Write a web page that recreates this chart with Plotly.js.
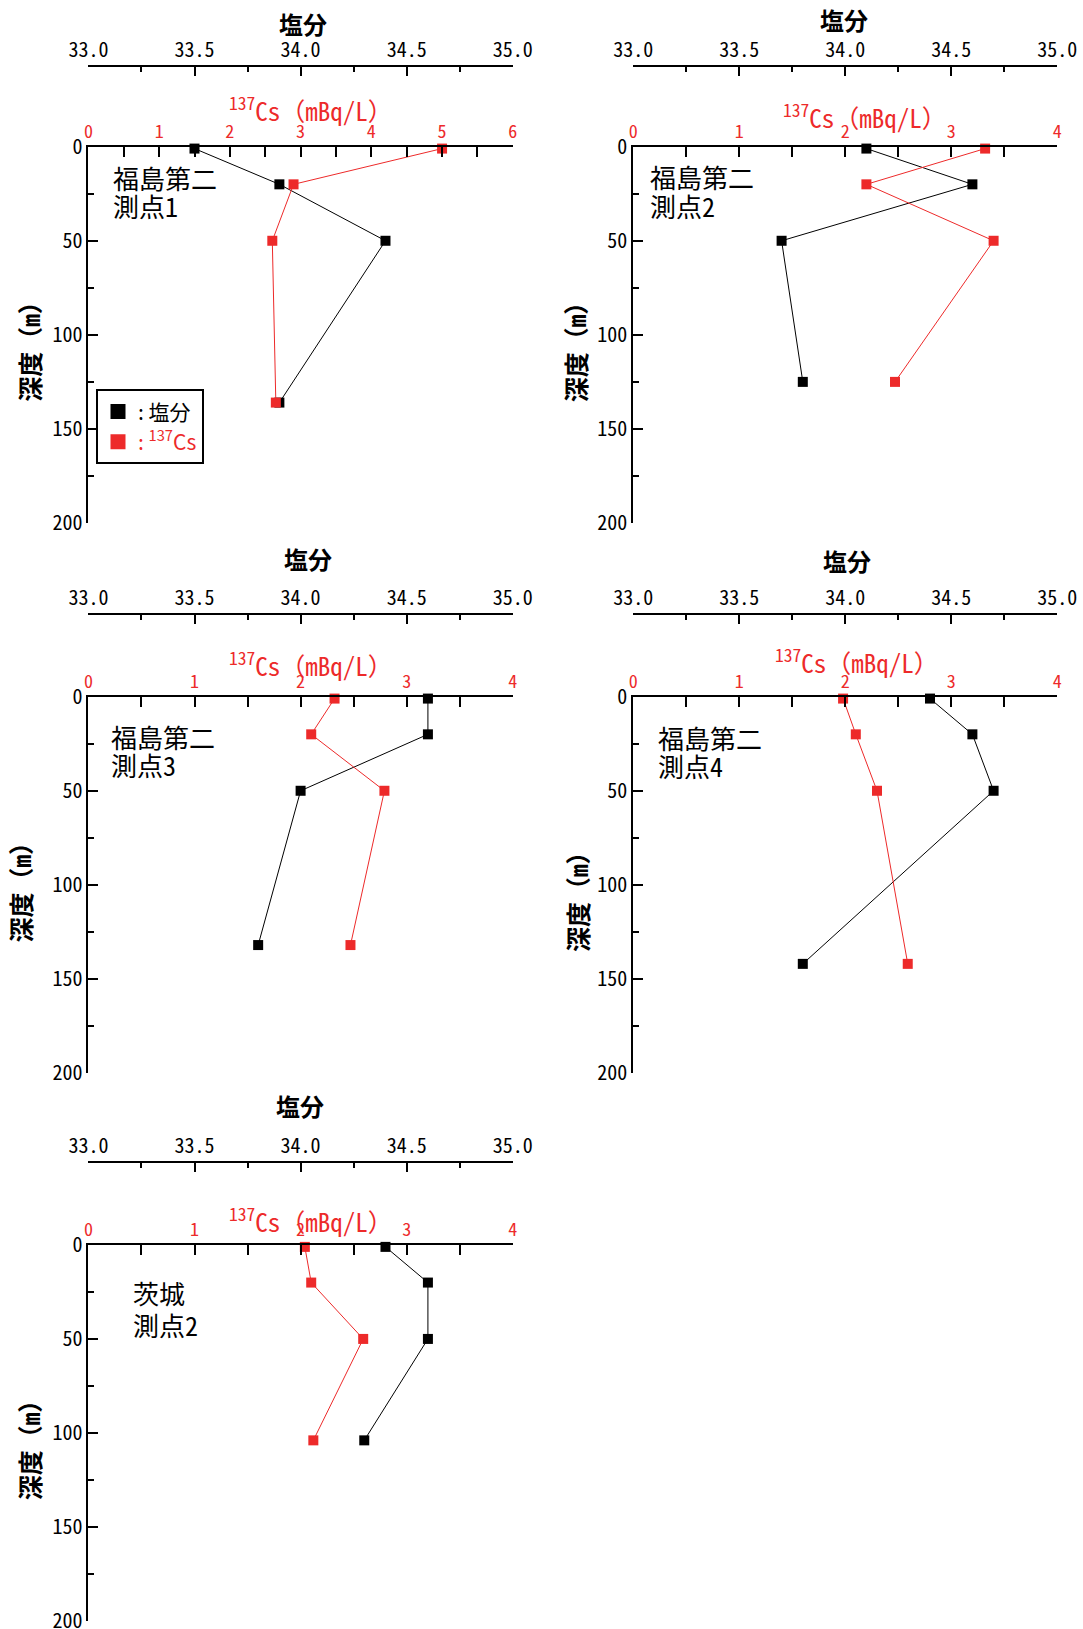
<!DOCTYPE html>
<html>
<head>
<meta charset="utf-8">
<script src="https://cdn.plot.ly/plotly-3.0.1.min.js"></script>
<style>html,body{margin:0;padding:0;background:#fff;}</style>
</head>
<body>
<div id="chart" style="width:1083px;height:1629px;"></div>
<script>
// ---- data ----
const stationLine1 = ["福島第二", "福島第二", "福島第二", "福島第二", "茨城"];
const stationLine2 = ["測点1", "測点2", "測点3", "測点4", "測点2"];

const depth1 = [1, 20, 50, 136];
const salinity1 = [33.5, 33.9, 34.4, 33.9];
const cs1 = [5.0, 2.9, 2.6, 2.65];

const depth2 = [1, 20, 50, 125];
const salinity2 = [34.1, 34.6, 33.7, 33.8];
const cs2 = [3.32, 2.2, 3.4, 2.47];

const depth3 = [1, 20, 50, 132];
const salinity3 = [34.6, 34.6, 34.0, 33.8];
const cs3 = [2.32, 2.1, 2.79, 2.47];

const depth4 = [1, 20, 50, 142];
const salinity4 = [34.4, 34.6, 34.7, 33.8];
const cs4 = [1.98, 2.1, 2.3, 2.59];

const depth5 = [1, 20, 50, 104];
const salinity5 = [34.4, 34.6, 34.6, 34.3];
const cs5 = [2.04, 2.1, 2.59, 2.12];

const csAxisMax = [6, 4, 4, 4, 4];
const salinityRange = [33, 35];
const depthRange = [200, 0];

const salinityTitle = "塩分";
const csTitle = "<sup>137</sup>Cs（mBq/L）";
const depthTitle = "深度（m）";
const legendSalinity = ": 塩分";
const legendCs = ": <sup>137</sup>Cs";

// ---- styling / layout ----
const W = 1083, H = 1629;
const RED = "#ed2a2a";
const FONT = '"Noto Sans Mono CJK JP", "Noto Sans CJK JP", "DejaVu Sans Mono", monospace';
const FONT_P = '"Noto Sans CJK JP", "Noto Sans", sans-serif';
const px = v => v / W;
const py = v => 1 - v / H;

const depths = [depth1, depth2, depth3, depth4, depth5];
const sals = [salinity1, salinity2, salinity3, salinity4, salinity5];
const css = [cs1, cs2, cs3, cs4, cs5];

// pixel geometry of panels
const panels = [
  {x0: 88.4, x1: 512.8, yTop: 146.7, yBot: 523, salY: 65.7,
   salTitle: [303, 23.5], csT: [311, 108.5], yT: [29, 345.7], lab: [110.9, 177.5, 205.8]},
  {x0: 633.2, x1: 1057.2, yTop: 146.7, yBot: 523, salY: 65.7,
   salTitle: [844, 20], csT: [865, 116], yT: [574.5, 345.7], lab: [648, 176.7, 205.8]},
  {x0: 88.4, x1: 512.8, yTop: 696.7, yBot: 1073, salY: 614,
   salTitle: [307.5, 558], csT: [311, 664], yT: [19.8, 885.7], lab: [108.5, 736.7, 764.2]},
  {x0: 633.2, x1: 1057.2, yTop: 696.7, yBot: 1073, salY: 614,
   salTitle: [847, 560], csT: [857, 661], yT: [576.4, 895.7], lab: [655.5, 737.5, 765.8]},
  {x0: 88.4, x1: 512.8, yTop: 1245, yBot: 1620.7, salY: 1161.7,
   salTitle: [300, 1105], csT: [311, 1219.5], yT: [29.3, 1444], lab: [130.9, 1292.5, 1324.5]}
];

const traces = [];
const layout = {
  width: W, height: H,
  margin: {l: 0, r: 0, t: 0, b: 0, pad: 0},
  paper_bgcolor: "white", plot_bgcolor: "rgba(0,0,0,0)",
  showlegend: true,
  legend: {
    x: px(96), y: py(389.3), xanchor: "left", yanchor: "top",
    bgcolor: "white", bordercolor: "black", borderwidth: 2,
    font: {family: FONT_P, size: 21, color: "black"},
    itemwidth: 30, tracegroupgap: 0
  },
  annotations: [],
  font: {family: FONT, color: "black"}
};

panels.forEach((p, i) => {
  const n = i + 1;
  const salId = "x" + (2 * n - 1);
  const csId = "x" + (2 * n);
  const yId = "y" + n;
  const salKey = "xaxis" + (2 * n - 1 === 1 ? "" : (2 * n - 1));
  const csKey = "xaxis" + (2 * n);
  const yKey = "yaxis" + (n === 1 ? "" : n);
  const dom = [px(p.x0), px(p.x1)];

  layout[salKey] = {
    domain: dom, range: salinityRange, anchor: "free", position: py(p.salY), side: "top",
    showline: true, linewidth: 2, linecolor: "black",
    ticks: "inside", ticklen: 9, tickwidth: 2, tickcolor: "black",
    tick0: 33, dtick: 0.5, tickformat: ".1f",
    minor: {dtick: 0.25, ticks: "inside", ticklen: 5, tickwidth: 2, tickcolor: "black", showgrid: false},
    tickfont: {family: FONT, size: 20, color: "black"},
    ticklabeloverflow: "allow",
    showgrid: false, zeroline: false, fixedrange: true
  };
  layout[csKey] = {
    domain: dom, range: [0, csAxisMax[i]], overlaying: salId, anchor: yId, side: "top",
    showline: true, linewidth: 2, linecolor: "black",
    ticks: "inside", ticklen: 10, tickwidth: 2, tickcolor: "black",
    tick0: 0, dtick: 1,
    minor: {dtick: 0.5, ticks: "inside", ticklen: 10, tickwidth: 2, tickcolor: "black", showgrid: false},
    tickfont: {family: FONT, size: 18, color: RED},
    ticklabeloverflow: "allow",
    showgrid: false, zeroline: false, fixedrange: true
  };
  layout[yKey] = {
    domain: [py(p.yBot), py(p.yTop)], range: depthRange, anchor: salId,
    showline: true, linewidth: 2, linecolor: "black",
    ticks: "inside", ticklen: 10, tickwidth: 2, tickcolor: "black",
    tick0: 0, dtick: 50,
    minor: {dtick: 25, ticks: "inside", ticklen: 6, tickwidth: 2, tickcolor: "black", showgrid: false},
    tickfont: {family: FONT, size: 20, color: "black", weight: 500},
    ticklabeloverflow: "allow",
    showgrid: false, zeroline: false, fixedrange: true
  };

  traces.push({
    x: sals[i], y: depths[i], xaxis: salId, yaxis: yId,
    mode: "lines+markers", showlegend: false, cliponaxis: false,
    line: {color: "black", width: 1},
    marker: {symbol: "square", size: 10, color: "black"}
  });
  traces.push({
    x: css[i], y: depths[i], xaxis: csId, yaxis: yId,
    mode: "lines+markers", showlegend: false, cliponaxis: false,
    line: {color: RED, width: 1},
    marker: {symbol: "square", size: 10, color: RED}
  });

  const A = layout.annotations;
  A.push({xref: "paper", yref: "paper", x: px(p.salTitle[0]), y: py(p.salTitle[1]),
    xanchor: "center", yanchor: "middle", showarrow: false, text: salinityTitle,
    font: {family: FONT, size: 24, color: "black", weight: "bold"}});
  A.push({xref: "paper", yref: "paper", x: px(p.csT[0]), y: py(p.csT[1]),
    xanchor: "center", yanchor: "middle", showarrow: false, text: csTitle,
    font: {family: FONT, size: 25, color: RED}});
  A.push({xref: "paper", yref: "paper", x: px(p.yT[0]), y: py(p.yT[1]),
    xanchor: "center", yanchor: "middle", showarrow: false, text: depthTitle, textangle: -90,
    font: {family: FONT, size: 25, color: "black", weight: "bold"}});
  A.push({xref: "paper", yref: "paper", x: px(p.lab[0]), y: py(p.lab[1]),
    xanchor: "left", yanchor: "middle", showarrow: false, text: stationLine1[i],
    font: {family: FONT, size: 26, color: "black"}});
  A.push({xref: "paper", yref: "paper", x: px(p.lab[0]), y: py(p.lab[2]),
    xanchor: "left", yanchor: "middle", showarrow: false, text: stationLine2[i],
    font: {family: FONT, size: 26, color: "black"}});
});

// legend entries (panel 1)
traces.push({x: [null], y: [null], xaxis: "x", yaxis: "y", mode: "markers",
  name: legendSalinity, showlegend: true, marker: {symbol: "square", size: 15, color: "black"}});
traces.push({x: [null], y: [null], xaxis: "x2", yaxis: "y", mode: "markers",
  name: '<span style="color:' + RED + '">' + legendCs + '</span>', showlegend: true,
  marker: {symbol: "square", size: 15, color: RED}});

Plotly.newPlot("chart", traces, layout, {displayModeBar: false, staticPlot: true});
</script>
</body>
</html>
